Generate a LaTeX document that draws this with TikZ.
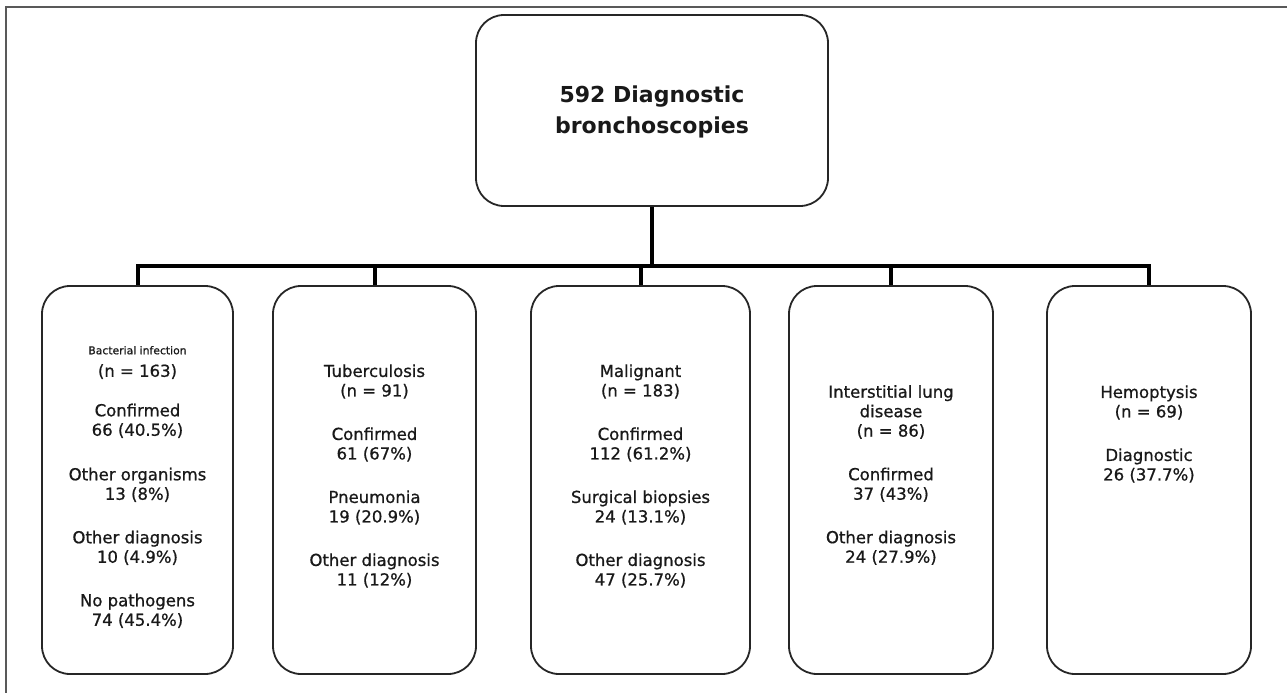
\documentclass[tikz,border=0pt]{standalone}
\usepackage{fontspec}
\setmainfont{DejaVu Sans}
\newfontfamily\medfont[FakeBold=0.8]{DejaVu Sans}
\begin{document}
\begin{tikzpicture}[x=1pt,y=-1pt,
  box/.style={draw=black!85, line width=1.8pt, rounded corners=28pt, inner sep=0pt, minimum height=388pt},
  conn/.style={line width=4pt, black, line join=miter},
  txt/.style={align=center, inner sep=0pt, font=\medfont\fontsize{16.5}{19.5}\selectfont, text=black!90},
  frame/.style={draw=black!65, line width=1.6pt}
]
\useasboundingbox (0,0) rectangle (1287,693);
\draw[frame] (5,7) -- (1287,7);
\draw[frame, line width=1.2pt] (6,7) -- (6,693);

% top box
\node[box, minimum width=352pt, minimum height=191pt] (top) at (652,110.5) {};
\node[txt, font=\fontsize{22}{31}\selectfont\bfseries] (toptxt) at (652,112) {592 Diagnostic\\bronchoscopies};

% category boxes
\node[box, minimum width=191pt] (b1) at (137.5,480) {};
\node[box, minimum width=203pt] (b2) at (374.5,480) {};
\node[box, minimum width=219pt] (b3) at (640.5,480) {};
\node[box, minimum width=204pt] (b4) at (891,480) {};
\node[box, minimum width=204pt] (b5) at (1149,480) {};

% connectors
\coordinate (bus) at (0,266);
\draw[conn] (top.south) -- (top.south |- bus);
\draw[conn] (b1.north) -- (b1.north |- bus) -- (b5.north |- bus) -- (b5.north);
\draw[conn] (b2.north) -- (b2.north |- bus);
\draw[conn] (b3.north) -- (b3.north |- bus);
\draw[conn] (b4.north) -- (b4.north |- bus);

% texts
\node[txt] (t1) at (137.5,487) {{\fontsize{10.8}{12}\selectfont Bacterial infection}\\[3pt]
(n = 163)\\[20pt]
Confirmed\\66 (40.5\%)\\[25pt]
Other organisms\\13 (8\%)\\[24pt]
Other diagnosis\\10 (4.9\%)\\[24pt]
No pathogens\\74 (45.4\%)};

\node[txt] (t2) at (374.5,476) {Tuberculosis\\(n = 91)\\[24pt]
Confirmed\\61 (67\%)\\[24pt]
Pneumonia\\19 (20.9\%)\\[24pt]
Other diagnosis\\11 (12\%)};

\node[txt] (t3) at (640.5,476) {Malignant\\(n = 183)\\[24pt]
Confirmed\\112 (61.2\%)\\[24pt]
Surgical biopsies\\24 (13.1\%)\\[24pt]
Other diagnosis\\47 (25.7\%)};

\node[txt] (t4) at (891,475) {Interstitial lung\\disease\\(n = 86)\\[24pt]
Confirmed\\37 (43\%)\\[24pt]
Other diagnosis\\24 (27.9\%)};

\node[txt] (t5) at (1149,434) {Hemoptysis\\(n = 69)\\[24pt]
Diagnostic\\26 (37.7\%)};
\end{tikzpicture}
\end{document}
